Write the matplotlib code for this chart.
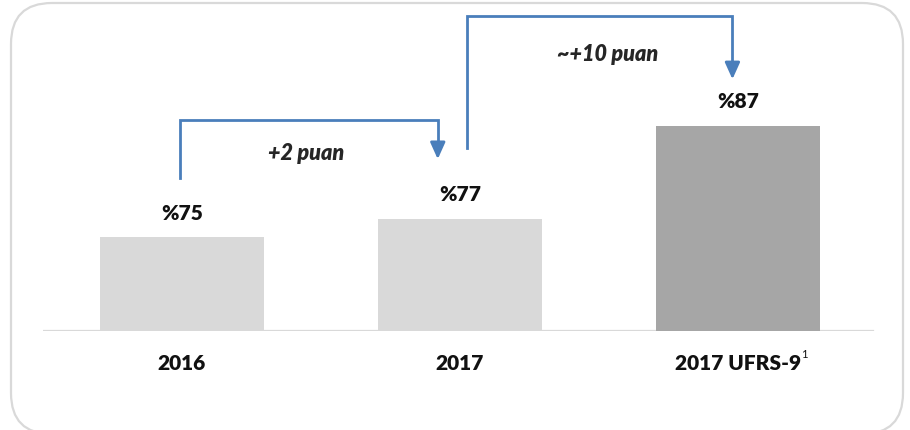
import matplotlib
matplotlib.use("Agg")
import matplotlib.pyplot as plt
from matplotlib.patches import FancyBboxPatch

categories = ["2016", "2017", "2017 UFRS-9"]
values = [75, 77, 87]
value_labels = ["%75", "%77", "%87"]
bar_colors = ["#d9d9d9", "#d9d9d9", "#a6a6a6"]
change_labels = ["+2 puan", "~+10 puan"]

W, H, DPI = 910, 431, 100
fig = plt.figure(figsize=(W / DPI, H / DPI), dpi=DPI)
fig.patch.set_facecolor("white")

# rounded frame around the whole panel
frame = FancyBboxPatch((11 / W, -4 / H), 892 / W, 431 / H,
                       boxstyle="round,pad=0,rounding_size=0.045",
                       transform=fig.transFigure, facecolor="none",
                       edgecolor="#d9d9d9", linewidth=1.6, mutation_aspect=W / H)
fig.patches.append(frame)

ax = fig.add_axes([43 / W, 99 / H, 834 / W, 327 / H])
ax.set_xlim(-0.5, 2.5)
ax.set_ylim(64.9, 100.1)
ax.axis("off")
ax.axhline(64.9, color="#d9d9d9", lw=1.6, xmin=0, xmax=0.995, zorder=1)

x = list(range(len(categories)))
ax.bar(x, [v - 64.9 for v in values], bottom=64.9, width=0.59,
       color=bar_colors, zorder=2)

font = "Lato"
weight = "heavy"
for xi, v, lab in zip(x, values, value_labels):
    ax.annotate(lab, (xi, v), xytext=(0, 18), textcoords="offset points",
                ha="center", va="center", fontsize=15, fontweight=weight,
                family=font, color="#111111")

for xi, lab in zip(x, categories):
    t = ax.annotate(lab, (xi, 64.9), xytext=(0, -23), textcoords="offset points",
                    ha="center", va="center", fontsize=15, fontweight=weight,
                    family=font, color="#111111")
    if lab.endswith("UFRS-9"):
        ax.annotate("1", xy=(1, 1), xycoords=t, xytext=(0, 4),
                    textcoords="offset points", ha="left", va="top",
                    fontsize=8, family=font, color="#111111")

arrow_color = "#4a7ebb"


def bracket(x0, y0, x1, ytop, y1):
    ax.plot([x0, x0, x1, x1], [y0, ytop, ytop, y1 + 1.5],
            color=arrow_color, lw=2, solid_joinstyle="miter", zorder=3)
    ax.annotate("", xy=(x1, y1), xytext=(x1, y1 + 1.8),
                arrowprops=dict(arrowstyle="-|>,head_length=1.0,head_width=0.45",
                                color=arrow_color, lw=2, shrinkA=0, shrinkB=0),
                zorder=3)


# 2016 -> 2017
bracket(-0.007, values[0] + 6.35, 0.92, 87.6, values[1] + 6.4)
ax.text(0.445, 84.1, change_labels[0], ha="center", va="center", fontsize=15.5,
        fontweight=weight, style="italic", family=font, color="#262626")

# 2017 -> 2017 UFRS-9
bracket(1.025, values[1] + 7.6, 1.98, 98.8, values[2] + 5.0)
ax.text(1.53, 94.8, change_labels[1], ha="center", va="center", fontsize=15.5,
        fontweight=weight, style="italic", family=font, color="#262626")

fig.savefig("out.png", dpi=DPI, facecolor="white")
